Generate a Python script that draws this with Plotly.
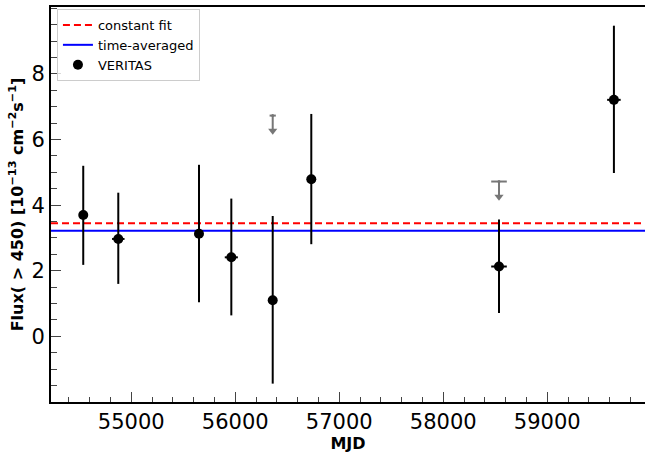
import plotly.graph_objects as go

# ---- data ----
mjd = [54538, 54875, 55651, 55962, 56360, 56731, 58536, 59641]
mjd_err = [30, 60, 30, 63, 30, 30, 75, 65]
flux = [3.70, 2.97, 3.13, 2.41, 1.10, 4.79, 2.13, 7.21]
flux_up = [5.20, 4.38, 5.23, 4.20, 3.67, 6.78, 3.56, 9.47]
flux_lo = [2.18, 1.60, 1.04, 0.64, -1.44, 2.81, 0.71, 4.98]

ul_mjd = [56360, 58536]
ul_mjd_err = [30, 75]
ul_flux = [6.73, 4.72]

const_fit = 3.45
time_avg = 3.22

x_ticks = [55000, 56000, 57000, 58000, 59000]
x_ticklabels = ["55000", "56000", "57000", "58000", "59000"]
y_ticks = [0, 2, 4, 6, 8]
y_ticklabels = ["0", "2", "4", "6", "8"]

x_range = [54228, 59940]
y_range = [-2.0, 10.04]

# ---- style ----
ARROW = 0.46
FONT = "DejaVu Sans"
GRAY = "#777777"

fig = go.Figure()

fig.add_trace(go.Scatter(
    x=x_range, y=[const_fit, const_fit], mode="lines", name="constant fit",
    line=dict(color="#ff0000", width=2, dash="7px,4px")))
fig.add_trace(go.Scatter(
    x=x_range, y=[time_avg, time_avg], mode="lines", name="time-averaged",
    line=dict(color="#0000ff", width=2)))

# upper limits
fig.add_trace(go.Scatter(
    x=ul_mjd, y=ul_flux, mode="markers", showlegend=False,
    marker=dict(color=GRAY, size=3),
    error_x=dict(type="data", array=ul_mjd_err, color=GRAY, thickness=2, width=0),
    error_y=dict(type="data", symmetric=False, array=[0] * len(ul_flux),
                 arrayminus=[ARROW] * len(ul_flux), color=GRAY, thickness=2, width=0)))
fig.add_trace(go.Scatter(
    x=ul_mjd, y=[v - ARROW for v in ul_flux], mode="markers", showlegend=False,
    marker=dict(color=GRAY, size=8, symbol="triangle-down")))

fig.add_trace(go.Scatter(
    x=mjd, y=flux, mode="markers", name="VERITAS",
    marker=dict(color="black", size=10),
    error_x=dict(type="data", array=mjd_err, color="black", thickness=2, width=0),
    error_y=dict(type="data", symmetric=False,
                 array=[u - f for u, f in zip(flux_up, flux)],
                 arrayminus=[f - l for f, l in zip(flux, flux_lo)],
                 color="black", thickness=2, width=0)))

fig.update_layout(
    width=645, height=454,
    margin=dict(l=51, r=0, t=7, b=52),
    plot_bgcolor="white", paper_bgcolor="white",
    font=dict(family=FONT, color="black"),
    legend=dict(x=0.01, y=0.995, xanchor="left", yanchor="top",
                bgcolor="rgba(255,255,255,0.8)", bordercolor="#cccccc", borderwidth=1,
                font=dict(size=13, family=FONT), tracegroupgap=0),
)

fig.update_xaxes(
    range=x_range, showgrid=False, zeroline=False, automargin=False,
    showline=True, linecolor="black", linewidth=2, mirror=True,
    ticks="inside", ticklen=10, tickwidth=1, tickcolor="#444444",
    tickvals=x_ticks, ticktext=x_ticklabels,
    tickfont=dict(size=21, family=FONT),
    minor=dict(ticks="inside", ticklen=5, dtick=200, tickcolor="#444444", showgrid=False),
    title=dict(text="<b>MJD</b>", font=dict(size=16, family=FONT), standoff=2),
)
fig.update_yaxes(
    range=y_range, showgrid=False, zeroline=False, automargin=False,
    showline=True, linecolor="black", linewidth=2, mirror=False,
    ticks="inside", ticklen=10, tickwidth=1, tickcolor="#444444",
    tickvals=y_ticks, ticktext=y_ticklabels,
    tickfont=dict(size=21, family=FONT),
    minor=dict(ticks="inside", ticklen=6, dtick=0.5, tickcolor="#444444", showgrid=False),
    title=dict(text="<b>Flux( > 450) [10<sup>−13</sup> cm<sup>−2</sup>s<sup>−1</sup>]</b>",
               font=dict(size=16, family=FONT), standoff=4),
)

fig.write_html("out.html", config={"displayModeBar": False},
               post_script="document.body.style.margin='0';document.body.style.overflow='hidden';")
